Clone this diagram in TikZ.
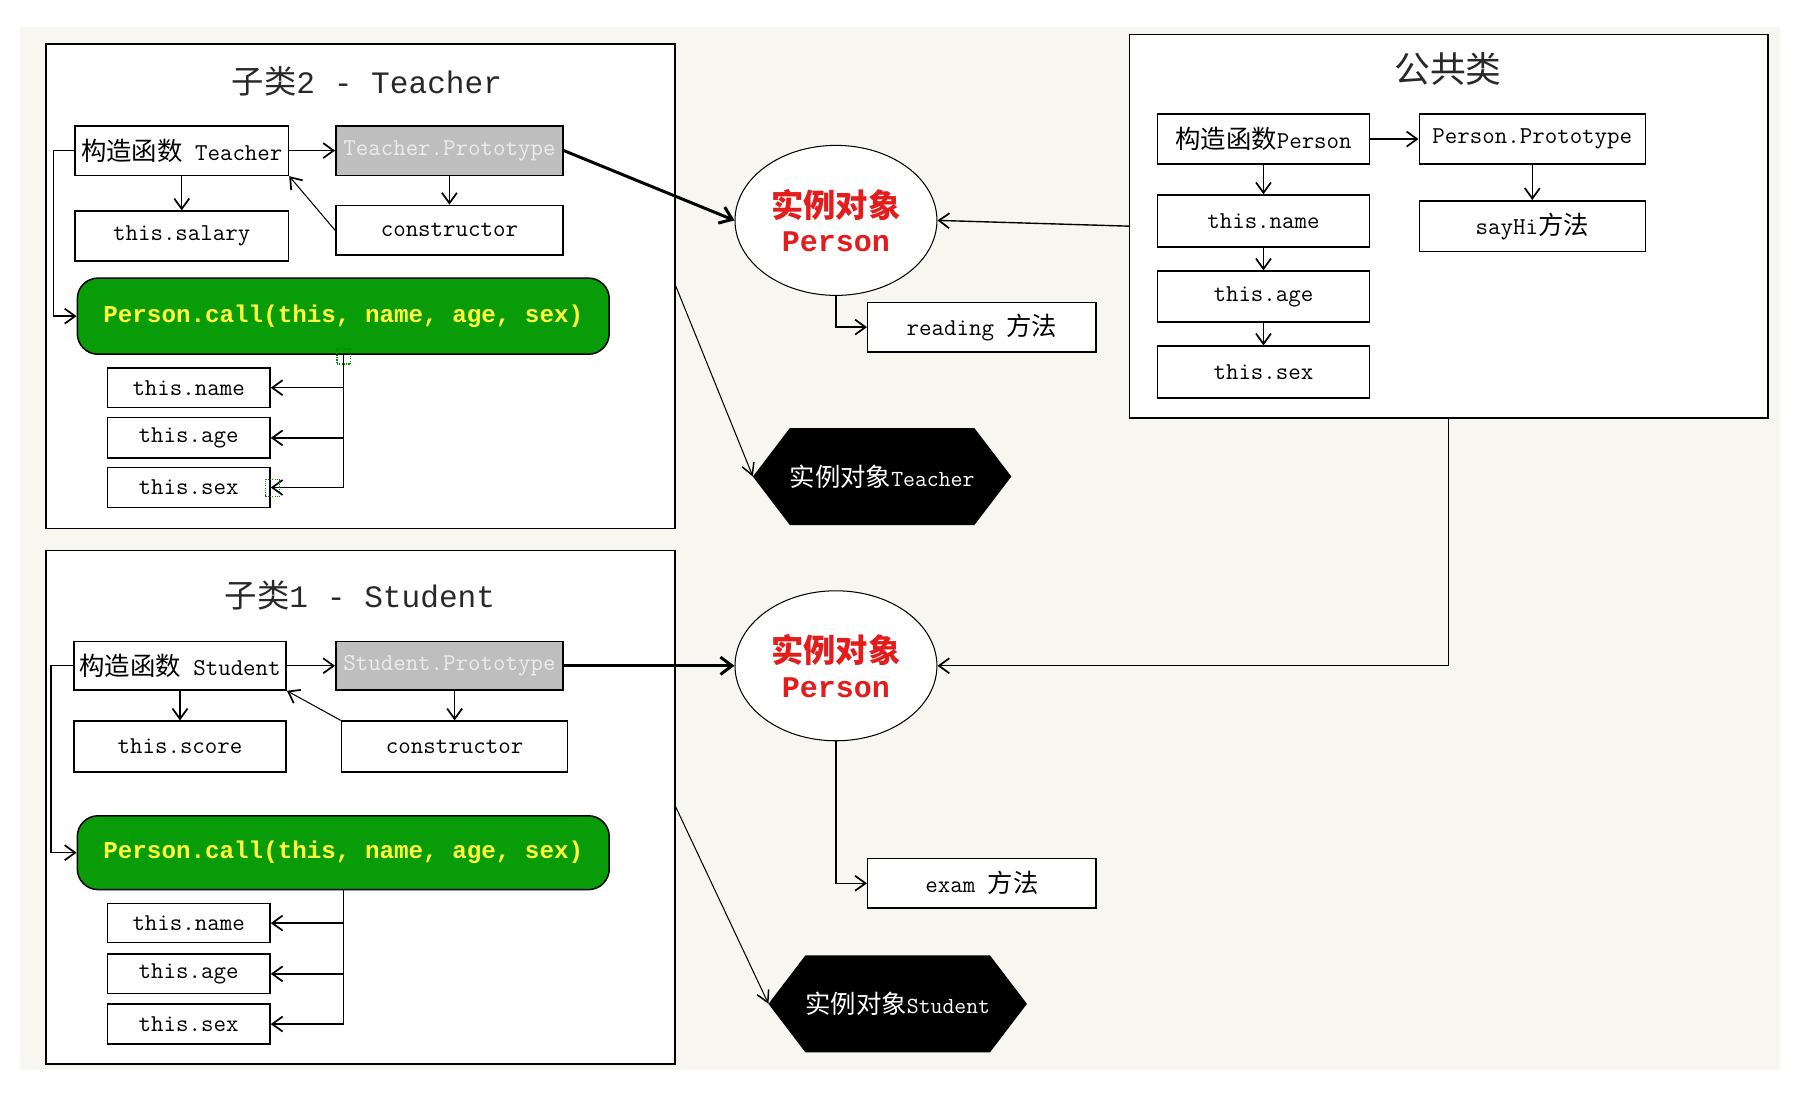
\documentclass[tikz,border=0pt]{standalone}
\usepackage{fontspec}
\newfontfamily\cjk{Noto Sans CJK SC}
\newfontfamily\lmono{Liberation Mono}
\usetikzlibrary{arrows.meta,shapes.geometric,calc}
\definecolor{bgc}{RGB}{248,246,240}
\definecolor{callgreen}{RGB}{8,156,8}
\definecolor{callyellow}{RGB}{255,255,60}
\definecolor{protogray}{RGB}{190,190,190}
\definecolor{prototext}{RGB}{236,236,236}
\definecolor{objred}{RGB}{228,28,28}
\definecolor{titlegray}{RGB}{40,40,40}
\newcommand\zh[2]{{\cjk\fontsize{#1}{#1}\selectfont #2}}
\newcommand\hexnode[4]{%
  \fill[black] (#2-112,#3) -- (#2-80,#3-42) -- (#2+80,#3-42) -- (#2+112,#3)
     -- (#2+80,#3+42) -- (#2-80,#3+42) -- cycle;
  \coordinate (#1tip) at (#2-112,#3);
  \node[hextext] (#1) at (#2,#3) {#4};}
\tikzset{
  frame/.style={draw, line width=1.4pt, fill=white, inner sep=0pt},
  box/.style={draw, line width=1.3pt, fill=white, inner sep=0pt,
     font=\ttfamily\fontsize{21}{23}\selectfont},
  protobox/.style={box, fill=protogray, text=prototext},
  callbox/.style={draw, line width=1.3pt, fill=callgreen, rounded corners=18pt,
     inner sep=0pt, text=callyellow, font=\lmono\bfseries\fontsize{21}{23}\selectfont},
  objell/.style={ellipse, draw, line width=0.9pt, fill=white, inner sep=0pt,
     minimum width=175pt, minimum height=130pt, align=center, text=objred,
     font=\lmono\bfseries\fontsize{26}{30}\selectfont},
  hextext/.style={inner sep=0pt, text=white, font=\ttfamily\fontsize{20}{22}\selectfont},
  titletext/.style={inner sep=0pt, text=titlegray, font=\lmono\fontsize{27}{29}\selectfont},
  arr/.style={line width=1.2pt, -{Straight Barb[length=9pt,width=13pt,line width=1.5pt]}},
  thinarr/.style={line width=0.9pt, -{Straight Barb[length=10pt,width=11pt,line width=1.3pt]}},
  bigarr/.style={line width=2.6pt, -{Straight Barb[length=10pt,width=15pt,line width=2.6pt]}},
  handle/.style={draw=green!55!black, densely dotted, line width=1pt, inner sep=0pt,
     minimum width=12pt, minimum height=13pt}
}
\begin{document}
\begin{tikzpicture}[x=1pt,y=-1pt]
\path[use as bounding box, fill=white] (0,0) rectangle (1560,953.3);
\fill[bgc] (17,23) rectangle (1543,927);

% ---------------- Teacher frame ----------------
\node[frame, minimum width=545pt, minimum height=420pt] (tframe) at (312.5,248) {};
\node[titletext] (ttitle) at (318,70) {\zh{28}{子类}2 - Teacher};
\node[box, minimum width=185pt, minimum height=43pt] (tcon) at (157.5,130.5) {\zh{22}{构造函数} Teacher};
\node[protobox, minimum width=197pt, minimum height=43pt] (tproto) at (389.5,130.5) {Teacher.Prototype};
\node[box, minimum width=185pt, minimum height=43pt] (tsal) at (157.5,204.5) {this.salary};
\node[box, minimum width=197pt, minimum height=43pt] (tcons) at (389.5,199.5) {constructor};
\node[callbox, minimum width=461pt, minimum height=66pt] (tcall) at (297.5,274) {Person.call(this, name, age, sex)};
\node[box, minimum width=141pt, minimum height=34pt] (tname) at (163.5,336) {this.name};
\node[box, minimum width=141pt, minimum height=35pt] (tage) at (163.5,379.5) {this.age};
\node[box, minimum width=141pt, minimum height=35pt] (tsex) at (163.5,422.5) {this.sex};

\draw[arr] (tcon.east) -- (tproto.west);
\draw[arr] (tproto.south) -- (tcons.north);
\draw[arr, line width=0.9pt] (tcons.west) -- (tcon.south east);
\draw[arr] (tcon.south) -- (tsal.north);
\draw[arr] (tcon.west) -- ++(-18,0) |- (tcall.west);
\draw[arr] (tcall.south) |- (tname.east);
\draw[arr] (tcall.south) |- (tage.east);
\draw[arr] (tcall.south) |- (tsex.east);
\node[handle] (th1) at (298,309) {};
\node[handle, minimum height=15pt] (th2) at (236,423) {};

% ---------------- Student frame ----------------
\node[frame, minimum width=545pt, minimum height=445pt] (sframe) at (312.5,699.5) {};
\node[titletext] (stitle) at (312,516) {\zh{28}{子类}1 - Student};
\node[box, minimum width=184pt, minimum height=42pt] (scon) at (156,577) {\zh{22}{构造函数} Student};
\node[protobox, minimum width=197pt, minimum height=42pt] (sproto) at (389.5,577) {Student.Prototype};
\node[box, minimum width=184pt, minimum height=44pt] (sscore) at (156,647) {this.score};
\node[box, minimum width=196pt, minimum height=44pt] (scons) at (394,647) {constructor};
\node[callbox, minimum width=461pt, minimum height=64pt] (scall) at (297.5,739) {Person.call(this, name, age, sex)};
\node[box, minimum width=141pt, minimum height=34pt] (sname) at (163.5,800) {this.name};
\node[box, minimum width=141pt, minimum height=34pt] (sage) at (163.5,844) {this.age};
\node[box, minimum width=141pt, minimum height=35pt] (ssex) at (163.5,887.5) {this.sex};

\draw[arr] (scon.east) -- (sproto.west);
\draw[arr] (scons.north |- sproto.south) -- (scons.north);
\draw[arr, line width=0.9pt] (scons.north west) -- (scon.south east);
\draw[arr] (scon.south) -- (sscore.north);
\draw[arr] (scon.west) -- ++(-19,0) |- (scall.west);
\draw[arr] (scall.south) |- (sname.east);
\draw[arr] (scall.south) |- (sage.east);
\draw[arr] (scall.south) |- (ssex.east);

% ---------------- Public class frame ----------------
\node[frame, minimum width=553pt, minimum height=332pt] (pframe) at (1255.5,196) {};
\node[titletext] (ptitle) at (1255,60) {\zh{31}{公共类}};
\node[box, minimum width=184pt, minimum height=43pt] (pcon) at (1095,120.5) {\zh{22}{构造函数}Person};
\node[box, minimum width=196pt, minimum height=43pt] (pproto) at (1328,120.5) {Person.Prototype};
\node[box, minimum width=196pt, minimum height=44pt] (psay) at (1328,196) {sayHi\zh{22}{方法}};
\node[box, minimum width=184pt, minimum height=45pt] (pname) at (1095,191.5) {this.name};
\node[box, minimum width=184pt, minimum height=44pt] (page) at (1095,257) {this.age};
\node[box, minimum width=184pt, minimum height=45pt] (psex) at (1095,322.5) {this.sex};

\draw[arr] (pcon.east) -- (pproto.west);
\draw[arr] (pproto.south) -- (psay.north);
\draw[arr] (pcon.south) -- (pname.north);
\draw[arr] (pname.south) -- (page.north);
\draw[arr] (page.south) -- (psex.north);

% ---------------- instance objects ----------------
\node[objell] (e1) at (724.5,191) {\zh{28}{实例对象}\\Person};
\node[objell] (e2) at (724.5,577) {\zh{28}{实例对象}\\Person};
\node[box, minimum width=198pt, minimum height=43pt] (read) at (851,283.5) {reading \zh{22}{方法}};
\node[box, minimum width=198pt, minimum height=43pt] (exam) at (851,765.5) {exam \zh{22}{方法}};

\hexnode{ht}{764.5}{413}{\zh{22}{实例对象}Teacher}
\hexnode{hs}{778}{870}{\zh{22}{实例对象}Student}

\draw[bigarr] (tproto.east) -- (e1.west);
\draw[bigarr] (sproto.east) -- (e2.west);
\draw[arr] (pframe.west) -- (e1.east);
\draw[arr] (pframe.south) |- (e2.east);
\draw[arr] (e1.south) |- (read.west);
\draw[arr] (e2.south) |- (exam.west);
\draw[thinarr] (tframe.east) -- (httip);
\draw[thinarr] (sframe.east) -- (hstip);
\end{tikzpicture}
\end{document}
